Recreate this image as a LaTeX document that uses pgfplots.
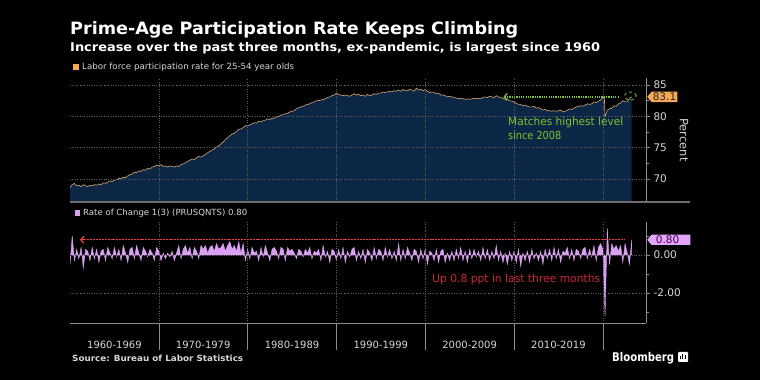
\documentclass[border=0pt]{standalone}
\usepackage{pgfplots}
\pgfplotsset{compat=1.18}
\usepackage{pgfplotstable}
\usepackage{fontspec}
\usepackage{graphicx}
\setmainfont{DejaVu Sans}
\usetikzlibrary{arrows.meta,shapes.symbols}
\definecolor{navy}{RGB}{12,38,70}
\definecolor{lfline}{RGB}{212,166,112}
\definecolor{orangebox}{RGB}{247,168,82}
\definecolor{violetbar}{RGB}{218,160,242}
\definecolor{violetbox}{RGB}{226,166,250}
\definecolor{anngreen}{RGB}{122,196,48}
\definecolor{annred}{RGB}{205,38,60}
\definecolor{redline}{RGB}{240,60,70}
\definecolor{tickgray}{RGB}{215,215,215}
\definecolor{axgray}{RGB}{140,140,140}
\definecolor{gridgray}{RGB}{95,95,95}
\definecolor{sepgray}{RGB}{110,110,110}

\pgfplotstableread[row sep=\\]{
x y \\
1960.00 68.6 \\ 1960.25 69.1 \\ 1960.50 69.3 \\ 1960.75 68.9 \\
1961.00 69.0 \\ 1961.25 68.8 \\ 1961.50 69.1 \\ 1961.75 68.9 \\
1962.00 68.8 \\ 1962.25 69.0 \\ 1962.50 68.9 \\ 1962.75 69.1 \\
1963.00 69.0 \\ 1963.25 69.2 \\ 1963.50 69.1 \\ 1963.75 69.4 \\
1964.00 69.3 \\ 1964.25 69.5 \\ 1964.50 69.7 \\ 1964.75 69.6 \\
1965.00 69.8 \\ 1965.25 69.9 \\ 1965.50 70.1 \\ 1965.75 70.0 \\
1966.00 70.3 \\ 1966.25 70.2 \\ 1966.50 70.5 \\ 1966.75 70.7 \\
1967.00 70.8 \\ 1967.25 71.1 \\ 1967.50 71.0 \\ 1967.75 71.3 \\
1968.00 71.2 \\ 1968.25 71.5 \\ 1968.50 71.4 \\ 1968.75 71.7 \\
1969.00 71.6 \\ 1969.25 71.9 \\ 1969.50 72.0 \\ 1969.75 72.2 \\
1970.00 72.1 \\ 1970.25 72.3 \\ 1970.50 72.0 \\ 1970.75 72.1 \\
1971.00 71.9 \\ 1971.25 72.1 \\ 1971.50 72.0 \\ 1971.75 71.9 \\
1972.00 72.1 \\ 1972.25 72.0 \\ 1972.50 72.3 \\ 1972.75 72.4 \\
1973.00 72.6 \\ 1973.25 72.8 \\ 1973.50 73.0 \\ 1973.75 73.2 \\
1974.00 73.1 \\ 1974.25 73.4 \\ 1974.50 73.6 \\ 1974.75 73.5 \\
1975.00 73.7 \\ 1975.25 73.9 \\ 1975.50 74.2 \\ 1975.75 74.4 \\
1976.00 74.6 \\ 1976.25 74.8 \\ 1976.50 75.1 \\ 1976.75 75.3 \\
1977.00 75.6 \\ 1977.25 75.9 \\ 1977.50 76.3 \\ 1977.75 76.6 \\
1978.00 76.9 \\ 1978.25 77.2 \\ 1978.50 77.3 \\ 1978.75 77.6 \\
1979.00 77.9 \\ 1979.25 78.0 \\ 1979.50 78.2 \\ 1979.75 78.5 \\
1980.00 78.5 \\ 1980.25 78.6 \\ 1980.50 78.8 \\ 1980.75 79.0 \\
1981.00 78.9 \\ 1981.25 79.2 \\ 1981.50 79.1 \\ 1981.75 79.3 \\
1982.00 79.4 \\ 1982.25 79.6 \\ 1982.50 79.5 \\ 1982.75 79.7 \\
1983.00 79.7 \\ 1983.25 79.9 \\ 1983.50 80.0 \\ 1983.75 80.2 \\
1984.00 80.3 \\ 1984.25 80.4 \\ 1984.50 80.5 \\ 1984.75 80.7 \\
1985.00 80.8 \\ 1985.25 80.9 \\ 1985.50 81.2 \\ 1985.75 81.4 \\
1986.00 81.5 \\ 1986.25 81.6 \\ 1986.50 81.8 \\ 1986.75 81.9 \\
1987.00 82.0 \\ 1987.25 82.2 \\ 1987.50 82.3 \\ 1987.75 82.5 \\
1988.00 82.5 \\ 1988.25 82.6 \\ 1988.50 82.7 \\ 1988.75 82.8 \\
1989.00 83.0 \\ 1989.25 83.1 \\ 1989.50 83.3 \\ 1989.75 83.4 \\
1990.00 83.7 \\ 1990.25 83.5 \\ 1990.50 83.4 \\ 1990.75 83.3 \\
1991.00 83.4 \\ 1991.25 83.3 \\ 1991.50 83.2 \\ 1991.75 83.4 \\
1992.00 83.6 \\ 1992.25 83.4 \\ 1992.50 83.5 \\ 1992.75 83.3 \\
1993.00 83.4 \\ 1993.25 83.2 \\ 1993.50 83.5 \\ 1993.75 83.3 \\
1994.00 83.4 \\ 1994.25 83.6 \\ 1994.50 83.5 \\ 1994.75 83.7 \\
1995.00 83.7 \\ 1995.25 83.9 \\ 1995.50 83.8 \\ 1995.75 83.9 \\
1996.00 84.0 \\ 1996.25 83.9 \\ 1996.50 84.1 \\ 1996.75 84.0 \\
1997.00 84.2 \\ 1997.25 84.0 \\ 1997.50 84.3 \\ 1997.75 84.1 \\
1998.00 84.1 \\ 1998.25 84.3 \\ 1998.50 84.2 \\ 1998.75 84.0 \\
1999.00 84.5 \\ 1999.25 84.2 \\ 1999.50 84.3 \\ 1999.75 84.1 \\
2000.00 84.3 \\ 2000.25 84.0 \\ 2000.50 83.8 \\ 2000.75 83.9 \\
2001.00 83.8 \\ 2001.25 83.6 \\ 2001.50 83.7 \\ 2001.75 83.4 \\
2002.00 83.4 \\ 2002.25 83.3 \\ 2002.50 83.1 \\ 2002.75 83.2 \\
2003.00 83.1 \\ 2003.25 83.0 \\ 2003.50 82.9 \\ 2003.75 82.8 \\
2004.00 82.9 \\ 2004.25 82.8 \\ 2004.50 82.7 \\ 2004.75 82.8 \\
2005.00 82.7 \\ 2005.25 82.8 \\ 2005.50 82.9 \\ 2005.75 82.8 \\
2006.00 82.9 \\ 2006.25 82.8 \\ 2006.50 83.0 \\ 2006.75 83.1 \\
2007.00 83.0 \\ 2007.25 83.2 \\ 2007.50 83.1 \\ 2007.75 83.0 \\
2008.00 83.3 \\ 2008.25 83.1 \\ 2008.50 83.0 \\ 2008.75 82.9 \\
2009.00 82.7 \\ 2009.25 82.8 \\ 2009.50 82.5 \\ 2009.75 82.4 \\
2010.00 82.3 \\ 2010.25 82.1 \\ 2010.50 81.9 \\ 2010.75 81.9 \\
2011.00 81.7 \\ 2011.25 81.8 \\ 2011.50 81.6 \\ 2011.75 81.5 \\
2012.00 81.5 \\ 2012.25 81.6 \\ 2012.50 81.3 \\ 2012.75 81.4 \\
2013.00 81.2 \\ 2013.25 81.0 \\ 2013.50 81.1 \\ 2013.75 80.9 \\
2014.00 80.9 \\ 2014.25 80.8 \\ 2014.50 80.9 \\ 2014.75 80.8 \\
2015.00 80.9 \\ 2015.25 81.0 \\ 2015.50 80.7 \\ 2015.75 80.8 \\
2016.00 81.0 \\ 2016.25 81.2 \\ 2016.50 81.1 \\ 2016.75 81.3 \\
2017.00 81.5 \\ 2017.25 81.6 \\ 2017.50 81.7 \\ 2017.75 81.6 \\
2018.00 81.8 \\ 2018.25 82.0 \\ 2018.50 81.9 \\ 2018.75 82.0 \\
2019.00 82.3 \\ 2019.25 82.2 \\ 2019.50 82.4 \\ 2019.75 82.6 \\
2020.00 83.0 \\ 2020.17 83.0 \\ 2020.25 79.9 \\ 2020.50 81.0 \\ 2020.75 81.2 \\
2021.00 81.3 \\ 2021.25 81.7 \\ 2021.50 81.6 \\ 2021.75 82.0 \\
2022.00 82.1 \\ 2022.25 82.5 \\ 2022.50 82.3 \\ 2022.75 82.3 \\
2023.00 82.9 \\ 2023.25 83.1 \\
}\lfpr

\pgfplotstableread[row sep=\\]{
x y \\
1960.00 -0.5 \\ 1960.25 1.0 \\ 1960.50 -0.3 \\ 1960.75 0.3 \\
1961.00 -0.2 \\ 1961.25 0.4 \\ 1961.50 -0.7 \\ 1961.75 0.3 \\
1962.00 0.2 \\ 1962.25 -0.3 \\ 1962.50 0.4 \\ 1962.75 -0.2 \\
1963.00 0.3 \\ 1963.25 -0.4 \\ 1963.50 0.2 \\ 1963.75 0.3 \\
1964.00 -0.3 \\ 1964.25 0.4 \\ 1964.50 0.1 \\ 1964.75 -0.2 \\
1965.00 0.4 \\ 1965.25 -0.1 \\ 1965.50 0.3 \\ 1965.75 -0.3 \\
1966.00 0.5 \\ 1966.25 0.1 \\ 1966.50 -0.4 \\ 1966.75 0.3 \\
1967.00 0.4 \\ 1967.25 -0.2 \\ 1967.50 0.5 \\ 1967.75 0.1 \\
1968.00 -0.3 \\ 1968.25 0.4 \\ 1968.50 0.2 \\ 1968.75 -0.1 \\
1969.00 0.3 \\ 1969.25 0.1 \\ 1969.50 -0.3 \\ 1969.75 0.4 \\
1970.00 0.2 \\ 1970.25 -0.3 \\ 1970.50 0.1 \\ 1970.75 -0.2 \\
1971.00 0.1 \\ 1971.25 -0.1 \\ 1971.50 0.2 \\ 1971.75 -0.3 \\
1972.00 0.1 \\ 1972.25 0.5 \\ 1972.50 -0.2 \\ 1972.75 0.3 \\
1973.00 0.5 \\ 1973.25 0.1 \\ 1973.50 0.4 \\ 1973.75 -0.2 \\
1974.00 0.4 \\ 1974.25 0.2 \\ 1974.50 -0.2 \\ 1974.75 0.5 \\
1975.00 0.3 \\ 1975.25 0.5 \\ 1975.50 0.1 \\ 1975.75 0.4 \\
1976.00 0.5 \\ 1976.25 0.2 \\ 1976.50 0.6 \\ 1976.75 0.3 \\
1977.00 0.4 \\ 1977.25 0.6 \\ 1977.50 0.2 \\ 1977.75 0.5 \\
1978.00 0.7 \\ 1978.25 0.3 \\ 1978.50 0.5 \\ 1978.75 0.2 \\
1979.00 0.7 \\ 1979.25 0.1 \\ 1979.50 0.6 \\ 1979.75 -0.3 \\
1980.00 0.3 \\ 1980.25 -0.2 \\ 1980.50 0.4 \\ 1980.75 0.1 \\
1981.00 0.2 \\ 1981.25 -0.3 \\ 1981.50 0.4 \\ 1981.75 -0.1 \\
1982.00 0.5 \\ 1982.25 0.1 \\ 1982.50 -0.3 \\ 1982.75 0.3 \\
1983.00 0.4 \\ 1983.25 0.2 \\ 1983.50 -0.2 \\ 1983.75 0.4 \\
1984.00 0.3 \\ 1984.25 -0.3 \\ 1984.50 0.4 \\ 1984.75 0.2 \\
1985.00 0.3 \\ 1985.25 0.1 \\ 1985.50 -0.2 \\ 1985.75 0.3 \\
1986.00 0.2 \\ 1986.25 -0.1 \\ 1986.50 0.3 \\ 1986.75 0.1 \\
1987.00 0.4 \\ 1987.25 -0.2 \\ 1987.50 0.2 \\ 1987.75 0.1 \\
1988.00 0.3 \\ 1988.25 -0.3 \\ 1988.50 0.5 \\ 1988.75 -0.1 \\
1989.00 0.2 \\ 1989.25 -0.4 \\ 1989.50 0.3 \\ 1989.75 0.2 \\
1990.00 -0.3 \\ 1990.25 0.3 \\ 1990.50 -0.2 \\ 1990.75 0.4 \\
1991.00 -0.4 \\ 1991.25 0.2 \\ 1991.50 -0.1 \\ 1991.75 0.3 \\
1992.00 0.4 \\ 1992.25 -0.3 \\ 1992.50 0.2 \\ 1992.75 -0.2 \\
1993.00 0.3 \\ 1993.25 -0.4 \\ 1993.50 0.3 \\ 1993.75 0.1 \\
1994.00 -0.3 \\ 1994.25 0.4 \\ 1994.50 -0.2 \\ 1994.75 0.3 \\
1995.00 0.2 \\ 1995.25 -0.3 \\ 1995.50 0.4 \\ 1995.75 -0.1 \\
1996.00 0.3 \\ 1996.25 -0.2 \\ 1996.50 0.2 \\ 1996.75 -0.3 \\
1997.00 0.6 \\ 1997.25 -0.3 \\ 1997.50 0.3 \\ 1997.75 -0.2 \\
1998.00 0.4 \\ 1998.25 0.1 \\ 1998.50 -0.3 \\ 1998.75 0.3 \\
1999.00 0.2 \\ 1999.25 -0.4 \\ 1999.50 0.3 \\ 1999.75 -0.2 \\
2000.00 0.3 \\ 2000.25 -0.5 \\ 2000.50 0.2 \\ 2000.75 0.1 \\
2001.00 -0.3 \\ 2001.25 0.3 \\ 2001.50 -0.4 \\ 2001.75 0.2 \\
2002.00 0.3 \\ 2002.25 -0.4 \\ 2002.50 0.1 \\ 2002.75 -0.3 \\
2003.00 0.2 \\ 2003.25 -0.3 \\ 2003.50 0.3 \\ 2003.75 -0.2 \\
2004.00 0.4 \\ 2004.25 -0.3 \\ 2004.50 0.2 \\ 2004.75 -0.4 \\
2005.00 0.3 \\ 2005.25 -0.2 \\ 2005.50 0.3 \\ 2005.75 -0.1 \\
2006.00 0.2 \\ 2006.25 -0.3 \\ 2006.50 0.4 \\ 2006.75 -0.2 \\
2007.00 0.3 \\ 2007.25 -0.3 \\ 2007.50 0.2 \\ 2007.75 -0.2 \\
2008.00 0.5 \\ 2008.25 -0.3 \\ 2008.50 0.2 \\ 2008.75 -0.4 \\
2009.00 0.1 \\ 2009.25 -0.5 \\ 2009.50 0.2 \\ 2009.75 -0.3 \\
2010.00 0.2 \\ 2010.25 -0.4 \\ 2010.50 0.3 \\ 2010.75 -0.6 \\
2011.00 0.1 \\ 2011.25 -0.3 \\ 2011.50 0.2 \\ 2011.75 -0.4 \\
2012.00 0.3 \\ 2012.25 -0.2 \\ 2012.50 0.1 \\ 2012.75 -0.3 \\
2013.00 0.2 \\ 2013.25 -0.5 \\ 2013.50 0.3 \\ 2013.75 -0.2 \\
2014.00 0.3 \\ 2014.25 -0.3 \\ 2014.50 0.4 \\ 2014.75 -0.2 \\
2015.00 0.3 \\ 2015.25 -0.4 \\ 2015.50 0.2 \\ 2015.75 0.1 \\
2016.00 0.4 \\ 2016.25 -0.2 \\ 2016.50 0.3 \\ 2016.75 -0.3 \\
2017.00 0.3 \\ 2017.25 0.2 \\ 2017.50 -0.2 \\ 2017.75 0.3 \\
2018.00 0.4 \\ 2018.25 -0.2 \\ 2018.50 0.3 \\ 2018.75 -0.1 \\
2019.00 0.5 \\ 2019.25 -0.3 \\ 2019.50 0.4 \\ 2019.75 0.6 \\
2020.00 0.3 \\ 2020.25 -3.2 \\ 2020.50 1.4 \\ 2020.75 -0.5 \\
2021.00 0.6 \\ 2021.25 0.3 \\ 2021.50 0.5 \\ 2021.75 0.2 \\
2022.00 0.5 \\ 2022.25 -0.4 \\ 2022.50 0.6 \\ 2022.75 0.1 \\
2023.00 -0.5 \\ 2023.25 0.8 \\
}\roc

\begin{document}
\begin{tikzpicture}
\fill[black] (0pt,0pt) rectangle (760pt,380pt);
\useasboundingbox (0pt,0pt) rectangle (760pt,380pt);

% ---------- top panel ----------
\begin{axis}[
  at={(70pt,178pt)}, anchor=south west, scale only axis,
  width=576pt, height=124pt,
  xmin=1960, xmax=2024.86, ymin=66.33, ymax=86.12,
  axis y line*=right, axis x line*=bottom,
  x axis line style={draw=none},
  xtick={1970,1980,1990,2000,2010,2020}, xticklabels={},
  x tick style={draw=none},
  ytick={70,75,80,85}, yticklabels={70,75,80,85},
  minor ytick={72.5,77.5,82.5},
  y axis line style={draw=axgray, line width=0.8pt},
  y tick style={draw=axgray, line width=0.6pt},
  major tick length=4pt, minor tick length=2.5pt, tick align=outside,
  grid=major, major grid style={dotted, draw=gridgray, line width=0.5pt},
  yticklabel style={font=\fontsize{10.5}{12}\selectfont, text=tickgray},
  axis on top,
]
\addplot[draw=none, fill=navy] table {\lfpr} \closedcycle;
\addplot[draw=lfline, line width=0.6pt] table {\lfpr};
\draw[anngreen, dash pattern=on 1.2pt off 1.1pt, line width=1.3pt, {Straight Barb[length=3pt,width=7pt]}-] (axis cs:2008.8,83.1) -- (axis cs:2021.7,83.1);
\draw[anngreen, dashed, line width=0.8pt] (axis cs:2023.1,83.25) ellipse [x radius=6pt, y radius=4pt];
\end{axis}

% ---------- bottom panel ----------
\begin{axis}[
  at={(70pt,57pt)}, anchor=south west, scale only axis,
  width=576pt, height=101pt,
  xmin=1960, xmax=2024.86, ymin=-3.579, ymax=1.737,
  axis y line*=right, axis x line*=bottom,
  x axis line style={draw=axgray, line width=0.8pt},
  y axis line style={draw=axgray, line width=0.8pt},
  xtick={1965,1975,1985,1995,2005,2015},
  xticklabels={1960-1969,1970-1979,1980-1989,1990-1999,2000-2009,2010-2019},
  x tick style={draw=none},
  xticklabel style={font=\fontsize{10}{12}\selectfont, text=tickgray, anchor=base, yshift=-21pt},
  extra x ticks={1970,1980,1990,2000,2010,2020}, extra x tick labels={},
  extra x tick style={grid=major},
  ytick={-2,0}, yticklabels={-2.00,0.00},
  minor ytick={-3,-1,1},
  y tick style={draw=axgray, line width=0.6pt},
  major tick length=4pt, minor tick length=2.5pt, tick align=outside,
  ymajorgrids, major grid style={dotted, draw=gridgray, line width=0.5pt},
  yticklabel style={font=\fontsize{10.5}{12}\selectfont, text=tickgray},
  axis on top,
]
\addplot[fill=violetbar, draw=violetbar, line width=0.4pt] table {\roc} \closedcycle;
\end{axis}

% red level line at 0.80 (y = 57 + (0.80+3.579)*19)
\draw[redline, dash pattern=on 2pt off 0.9pt, line width=1.3pt, {Straight Barb[length=3pt,width=7pt]}-] (80pt,140.2pt) -- (625pt,140.2pt);

% separators
\draw[sepgray, line width=1.6pt] (70pt,178pt) -- (690pt,178pt);
\foreach \xx in {158.8,247.6,336.4,425.2,514.0,602.8}
  \draw[axgray, line width=0.6pt] (\xx pt,57pt) -- (\xx pt,30pt);

% value boxes
\node[signal, signal to=west, signal pointer angle=100, fill=orangebox, text=black!85, inner sep=1.2pt, anchor=west,
      font=\fontsize{10.5}{12}\selectfont] at (647pt,283.1pt) {83.1};
\node[signal, signal to=west, signal pointer angle=100, fill=violetbox, text=violet!60!black, inner xsep=2pt, inner ysep=1.2pt, anchor=west,
      minimum width=43pt, text width=30pt, align=left, font=\fontsize{10.5}{12}\selectfont] at (647pt,140.2pt) {0.80};

% axis title
\node[rotate=-90, text=tickgray, font=\fontsize{11.5}{13}\selectfont] at (684pt,240pt) {Percent};

% titles
\node[anchor=base west, inner sep=0pt, text=white] at (70pt,345pt)
  {\resizebox{448pt}{\height}{\fontsize{17}{20}\selectfont\bfseries Prime-Age Participation Rate Keeps Climbing}};
\node[anchor=base west, inner sep=0pt, text=white] at (70pt,328.5pt)
  {\resizebox{530pt}{\height}{\fontsize{12}{14}\selectfont\bfseries Increase over the past three months, ex-pandemic, is largest since 1960}};

% legends
\fill[orangebox] (73pt,310pt) rectangle (78.5pt,315.5pt);
\node[anchor=base west, inner sep=0pt, text=tickgray] at (82pt,310.5pt)
  {\resizebox{212pt}{\height}{\fontsize{8.5}{10}\selectfont Labor force participation rate for 25-54 year olds}};
\fill[violetbar] (74.5pt,164pt) rectangle (80pt,169.5pt);
\node[anchor=base west, inner sep=0pt, text=tickgray] at (83pt,164.5pt)
  {\resizebox{164pt}{\height}{\fontsize{8.5}{10}\selectfont Rate of Change 1(3) (PRUSQNTS) 0.80}};

% annotations
\node[anchor=base west, inner sep=0pt, text=anngreen] at (508pt,254pt)
  {\resizebox{115pt}{\height}{\fontsize{11}{13}\selectfont Matches highest level}};
\node[anchor=base west, inner sep=0pt, text=anngreen] at (508pt,240.5pt)
  {\resizebox{53pt}{\height}{\fontsize{11}{13}\selectfont since 2008}};
\node[anchor=base west, inner sep=0pt, text=annred] at (432pt,97pt)
  {\resizebox{168pt}{\height}{\fontsize{11}{13}\selectfont Up 0.8 ppt in last three months}};

% footer
\node[anchor=base west, inner sep=0pt, text=tickgray] at (72pt,18pt)
  {\resizebox{171pt}{\height}{\fontsize{8.5}{10}\selectfont\bfseries Source: Bureau of Labor Statistics}};
\node[anchor=base west, inner sep=0pt, text=white] at (612pt,18.5pt)
  {\resizebox{62pt}{\height}{\fontsize{12}{14}\selectfont\bfseries Bloomberg}};
\fill[white, rounded corners=1pt] (678pt,18pt) rectangle (688pt,28pt);
\fill[black] (680pt,21pt) rectangle (681pt,24pt);
\fill[black] (682.3pt,21pt) rectangle (683.3pt,26pt);
\fill[black] (684.6pt,21pt) rectangle (685.6pt,25pt);
\end{tikzpicture}
\end{document}
